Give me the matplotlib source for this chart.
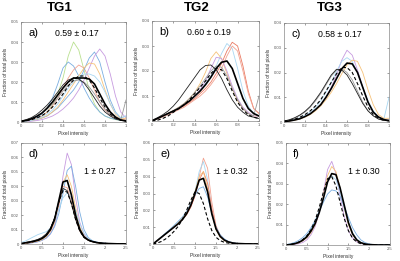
import numpy as np
import matplotlib.pyplot as plt

plt.rcParams['font.family'] = ['Liberation Sans', 'DejaVu Sans']

# x grids
x_top = [0, .05, .1, .15, .2, .25, .3, .35, .4, .45, .5, .55, .6, .65, .7, .75, .8, .85, .9, .95, 1.0]
x_bot = [0, .1, .2, .3, .4, .5, .6, .7, .8, .9, 1.0, 1.1, 1.2, 1.3, 1.4, 1.5, 1.6, 1.7, 1.8, 1.9,
         2.0, 2.1, 2.2, 2.3, 2.4, 2.5]

# panel a (values x 1e-3)
a_green = [0.3, 0.6, 1.0, 1.8, 3, 5, 8.5, 14, 22, 33, 40, 36, 26, 16, 9, 5, 3, 1.8, 1.2, 0.8, 1.5]
a_blue_l = [0.3, 0.6, 1.2, 2.2, 4, 7, 12, 19, 27, 30, 28, 23, 17, 12, 8, 5, 3, 2, 1.3, 0.8, 1]
a_salmon = [0.3, 0.5, 1, 1.8, 3, 5, 8, 12, 17, 22, 26, 28.5, 27, 22, 16, 10, 6, 3.5, 2, 1, 1.5]
a_blue_r = [0.2, 0.4, 0.7, 1.2, 2, 3, 5, 7, 10, 13, 16, 20, 26, 32, 35, 30, 20, 11, 5, 2, 3]
a_purple = [0.1, 0.2, 0.4, 0.7, 1.2, 2, 3, 4.5, 6.5, 9, 12, 16, 21, 27, 33, 36.5, 33, 24, 13, 5, 2]
a_orange = [0.2, 0.4, 0.8, 1.3, 2, 3.2, 5, 7.5, 11, 15, 19, 23, 27, 29.5, 29, 24, 16, 9, 4, 1.5, 2]
a_lblue = [0.2, 0.4, 0.8, 1.5, 2.5, 4, 6, 9, 13, 17, 20, 22.5, 24, 24, 23, 20, 15, 9, 4.5, 2, 3]
a_gray = [0.5, 1, 1.8, 3, 4.5, 6.5, 9, 12, 15.5, 18.5, 20.5, 21, 20, 17.5, 14, 10, 6.5, 3.5, 2, 1, 11]
a_mean = [0.3, 0.8, 1.6, 2.8, 4.5, 7, 10, 13.5, 17, 20, 22, 22, 22, 21.5, 19, 14, 9, 5, 2.5, 1, 0.5]
a_thin = [0.5, 1.2, 2.2, 3.8, 6, 8.5, 11.5, 15, 18.5, 21, 22, 21.5, 19.5, 16, 12, 8, 5, 3, 1.5, 0.8, 0.5]
a_dash = [0.3, 0.6, 1.2, 2, 3.2, 5, 7.5, 10.5, 14, 18, 21, 23, 23, 21, 17, 12, 7.5, 4, 2, 1, 0.5]

# panel b
b_red = [0, 1, 2, 3, 4, 5, 6, 7.5, 9, 11, 13, 15.5, 19, 23, 28, 31.5, 30, 22, 12, 5, 3]
b_lblue = [0, 1, 2, 3, 4, 5, 6.5, 8, 10, 12, 15, 18, 22, 27, 31, 29, 21, 12, 6, 3, 2]
b_orange_l = [0, 1, 2, 3, 4.2, 5.5, 7, 9, 11.5, 15, 19.5, 25, 27.7, 25, 19, 13, 8, 5, 3, 2, 2]
b_orange_r = [0, 0.8, 1.6, 2.5, 3.5, 4.5, 5.5, 7, 8.5, 10, 12, 14.5, 17.5, 21, 26, 30, 28, 20, 11, 5, 3]
b_purple = [0, 1, 2, 3, 4, 5.2, 6.5, 8, 10, 12.5, 16, 21, 25.5, 25, 20, 14, 9, 5.5, 3.5, 2, 2]
b_gray = [0, 1, 2, 3, 4.2, 5.5, 7, 9, 11.5, 14, 17, 20, 22, 21.5, 18, 13, 8.5, 5, 3, 2, 10]
b_mean = [0, 1, 2, 3, 4, 5, 6.5, 8, 10, 12, 14.5, 17.5, 21, 23.5, 24, 21, 15, 9, 5, 3, 2]
b_thin = [0.3, 1.3, 2.5, 4, 6, 8.5, 11.5, 14.5, 17.5, 20.5, 22.2, 22.4, 20.5, 17, 12.5, 8.5, 5.5, 3.5, 2, 1.5, 1]
b_dash = [0, 0.3, 1, 2, 3.5, 5, 6.5, 8.5, 11, 13.5, 16, 19, 21, 20.5, 17, 12, 7.5, 4.5, 2.5, 1.5, 1]

# panel c
c_purple = [0.2, 0.4, 0.8, 1.4, 2.3, 3.5, 5, 7, 10, 14, 19, 25, 29, 27, 21, 14, 8, 4, 2, 1, 1]
c_lblue = [0.3, 0.6, 1, 1.7, 2.7, 4, 6, 8.5, 12, 16, 20.5, 24.5, 26, 24.5, 20, 14, 8.5, 4.5, 2, 1, 10]
c_orange = [0.2, 0.4, 0.7, 1.2, 2, 3, 4.5, 6.5, 9, 12, 15.5, 19.5, 23, 25, 24.5, 20, 13, 7, 3, 1.5, 1.5]
c_gray = [0.4, 0.8, 1.5, 2.6, 4, 6, 8.5, 11.5, 15, 18.5, 21, 21.5, 20, 17, 12.5, 8, 4.5, 2.5, 1.2, 0.7, 1]
c_mean = [0.2, 0.4, 0.8, 1.3, 2.2, 3.3, 5, 7, 10, 13.5, 17.5, 21.5, 23.8, 23.5, 20, 14, 8, 4, 2, 1, 0.5]
c_thin = [0.4, 0.9, 1.7, 2.8, 4.3, 6.3, 9, 12, 15.5, 19, 21.3, 21, 19, 15.5, 11.5, 7.5, 4.5, 2.5, 1.2, 0.6, 0.5]
c_dash = [0.3, 0.6, 1.1, 1.9, 3, 4.5, 6.5, 9, 12.5, 16, 19.5, 22, 22, 20, 15.5, 10.5, 6, 3, 1.5, 0.7, 0.5]

# panel d
d_purple = [0, 0.3, 0.6, 1, 1.5, 2.5, 4, 7, 13, 25, 47, 63, 55, 32, 15, 7, 3.5, 2, 1.2, 0.8, 0.5, 0.3, 0.2, 0.1, 0.1, 0]
d_blue = [0, 0.3, 0.6, 1, 1.6, 2.6, 4.2, 7, 12, 21, 35, 51, 54, 40, 22, 10, 4.5, 2.2, 1.3, 0.8, 0.5, 0.3, 0.2, 0.1, 0.1, 0]
d_orange = [0, 0.4, 0.8, 1.3, 2, 3, 5, 8.5, 15, 27, 43, 48, 40, 25, 12, 5.5, 2.8, 1.6, 1, 0.6, 0.4, 0.3, 0.2, 0.1, 0.1, 0]
d_red = [0, 0.5, 1, 1.6, 2.4, 3.6, 5.5, 9, 16, 28, 40, 39, 30, 18, 9, 4.5, 2.5, 1.5, 0.9, 0.6, 0.4, 0.3, 0.2, 0.1, 0.1, 0]
d_lblue = [1, 2, 3.5, 5, 6.5, 7.5, 8.5, 11, 16, 24, 32, 35.5, 32, 23, 14, 7.5, 4, 2.2, 1.3, 0.8, 0.5, 0.3, 0.2, 0.1, 0.1, 0]
d_mean = [0.2, 0.8, 1.3, 1.8, 2.6, 3.8, 6, 10, 17, 30, 43, 44, 34, 20, 10, 5, 2.8, 1.7, 1, 0.6, 0.4, 0.3, 0.2, 0.1, 0.1, 0]
d_thin = [0.3, 1, 1.6, 2.3, 3.2, 4.6, 7, 11, 18, 29, 38.5, 37, 28, 17, 9, 4.6, 2.6, 1.6, 1, 0.6, 0.4, 0.3, 0.2, 0.1, 0.1, 0]
d_dash = [0, 0.5, 1, 1.7, 2.5, 3.8, 6, 10, 18, 29, 37, 36, 28, 17, 9, 4.6, 2.6, 1.6, 1, 0.6, 0.4, 0.3, 0.2, 0.1, 0.1, 0]

# panel e
e_salmon = [0, 2, 4, 6, 8, 10, 12, 14.5, 17.5, 22, 29, 40, 51, 45, 25, 11, 5, 2.5, 1.2, 0.6, 0.3, 0.2, 0.1, 0.1, 0, 0]
e_lblue = [0, 2, 4, 6, 8, 10.5, 12.5, 15, 18, 23, 31, 43, 49, 38, 20, 9, 4.5, 2.5, 1.2, 0.6, 0.3, 0.2, 0.1, 0.1, 0, 0]
e_red = [0, 2, 4, 6, 8, 10, 12, 14.5, 17.5, 22, 28.5, 38, 43, 36, 21, 10, 5, 2.5, 1.2, 0.6, 0.3, 0.2, 0.1, 0.1, 0, 0]
e_orange = [0, 2.2, 4.2, 6.2, 8.3, 10.5, 12.8, 15.5, 19, 24, 31, 40, 43, 33, 18, 8.5, 4, 2, 1, 0.5, 0.3, 0.2, 0.1, 0.1, 0, 0]
e_blue = [0, 2.2, 4.3, 6.5, 8.7, 11, 13.5, 16, 19.5, 24, 29, 33, 34, 28, 18, 10, 5.5, 3, 1.5, 0.8, 0.4, 0.2, 0.1, 0.1, 0, 0]
e_mean = [0, 2, 4, 6, 8, 10, 12, 14.5, 18, 23, 30, 38, 39, 31, 18, 9, 4.5, 2.3, 1.2, 0.6, 0.3, 0.2, 0.1, 0.1, 0, 0]
e_dash = [0, 0.6, 1.5, 3, 5, 7.5, 10.5, 14.5, 20, 26, 31, 30, 24, 15, 8, 4, 2, 1, 0.5, 0.3, 0.2, 0.1, 0.1, 0, 0, 0]

# panel f
f_purple = [0, 0.1, 0.3, 0.6, 1.2, 2.5, 5, 9, 16, 26, 37, 41, 35, 24, 14, 7, 3.5, 1.5, 0.7, 0.3, 0.1, 0.1, 0, 0, 0, 0]
f_orange = [0, 0.2, 0.5, 1, 2, 3.5, 6, 10, 16.5, 25, 34, 38.5, 36, 28, 18, 10, 5, 2.2, 1, 0.4, 0.2, 0.1, 0, 0, 0, 0]
f_lblue = [0, 0.3, 0.7, 1.4, 2.6, 4.5, 7.5, 11.5, 17, 24, 31, 34, 32, 26, 18, 11, 6, 3, 1.3, 0.6, 0.3, 0.1, 0, 0, 0, 0]
f_blue = [0.2, 0.6, 1.2, 2.2, 3.6, 5.6, 8.5, 12, 16.5, 21, 25, 27, 26.5, 24, 19, 13.5, 8.5, 5, 2.5, 1.2, 0.5, 0.2, 0.1, 0, 0, 0]
f_mean = [0, 0.2, 0.6, 1.2, 2.3, 4, 6.8, 10.5, 16, 23, 31, 35, 34.5, 28, 19.5, 11, 5.5, 2.5, 1.1, 0.5, 0.2, 0.1, 0, 0, 0, 0]
f_dash = [0, 0.3, 0.7, 1.4, 2.6, 4.5, 7.5, 12, 18.5, 26, 32.5, 33.5, 29, 21, 13, 7, 3.3, 1.5, 0.6, 0.3, 0.1, 0, 0, 0, 0, 0]

labels = ['a)', 'b)', 'c)', 'd)', 'e)', 'f)']
stats = ['0.59 ± 0.17', '0.60 ± 0.19', '0.58 ± 0.17', '1 ± 0.27', '1 ± 0.32', '1 ± 0.30']
groups = ['TG1', 'TG2', 'TG3']
ymax = [0.05, 0.04, 0.04, 0.07, 0.06, 0.05]

# colours
GREEN, BLUE, PURPLE, ORANGE = '#b9e08f', '#7aaee0', '#c79be0', '#f6c27a'
SALMON, RED, LBLUE, GRAY = '#f2a391', '#ea7a63', '#a9d7f2', '#9a9a9a'
thin = dict(lw=0.6)
panels = [
    [(a_green, GREEN), (a_blue_l, BLUE), (a_salmon, SALMON), (a_blue_r, BLUE), (a_purple, PURPLE),
     (a_orange, ORANGE), (a_lblue, LBLUE), (a_gray, GRAY)],
    [(b_red, RED), (b_lblue, LBLUE), (b_orange_l, ORANGE), (b_orange_r, SALMON), (b_purple, PURPLE),
     (b_gray, GRAY)],
    [(c_purple, PURPLE), (c_lblue, LBLUE), (c_orange, ORANGE), (c_gray, GRAY)],
    [(d_purple, PURPLE), (d_blue, BLUE), (d_orange, ORANGE), (d_red, SALMON), (d_lblue, LBLUE)],
    [(e_salmon, SALMON), (e_lblue, LBLUE), (e_red, RED), (e_orange, ORANGE), (e_blue, BLUE)],
    [(f_purple, PURPLE), (f_orange, ORANGE), (f_lblue, LBLUE), (f_blue, BLUE)],
]
means = [a_mean, b_mean, c_mean, d_mean, e_mean, f_mean]
thins = [a_thin, b_thin, c_thin, d_thin, None, None]
dashes = [a_dash, b_dash, c_dash, d_dash, e_dash, f_dash]

# axes boxes in pixels (left, top, right, bottom) on a 400x261 canvas
boxes = [(21, 22, 126, 122), (152, 21, 259, 121), (284, 23, 389, 122),
         (21, 143, 126, 244), (153, 143, 258, 244), (286, 143, 390, 245)]

fig = plt.figure(figsize=(4, 2.61), dpi=100)
W, H = 400, 261

for i in range(6):
    l, t, r, b = boxes[i]
    ax = fig.add_axes([l / W, 1 - b / H, (r - l) / W, (b - t) / H])
    top = i < 3
    xs = np.array(x_top if top else x_bot)
    for ys, c in panels[i]:
        ax.plot(xs, np.array(ys) * 1e-3, color=c, lw=0.6)
    if thins[i] is not None:
        ax.plot(xs, np.array(thins[i]) * 1e-3, color='#222222', lw=0.6)
    ax.plot(xs, np.array(dashes[i]) * 1e-3, color='k', lw=0.8, ls=(0, (3, 2)))
    ax.plot(xs, np.array(means[i]) * 1e-3, color='k', lw=1.2)

    ax.set_ylim(0, ymax[i])
    ax.set_yticks(np.arange(0, ymax[i] + 1e-9, 0.01))
    ax.set_yticklabels(['0'] + ['%.2f' % v for v in np.arange(0.01, ymax[i] + 1e-9, 0.01)])
    if top:
        ax.set_xlim(0, 1)
        ax.set_xticks([0, 0.2, 0.4, 0.6, 0.8, 1])
        ax.set_xticklabels(['0', '0.2', '0.4', '0.6', '0.8', '1'])
    else:
        ax.set_xlim(0, 2.5)
        ax.set_xticks([0, 0.5, 1, 1.5, 2, 2.5])
        ax.set_xticklabels(['0', '0.5', '1', '1.5', '2', '2.5'])
    ax.tick_params(direction='in', length=1.5, width=0.4, labelsize=3, pad=1.5,
                   colors='#555555', top=True, right=True)
    for s in ax.spines.values():
        s.set_linewidth(0.5)
        s.set_color('#888888')
    ax.set_xlabel('Pixel intensity', fontsize=3.5, labelpad=2, color='#333333')
    ax.set_ylabel('Fraction of total pixels', fontsize=3.5, labelpad=2, color='#333333')

    ax.text(0.07, 0.89, labels[i], transform=ax.transAxes, fontsize=8, va='center')
    if top:
        ax.text(0.535, 0.885, stats[i], transform=ax.transAxes, fontsize=6.3,
                ha='center', va='center')
    else:
        ax.text(0.75, 0.72, stats[i], transform=ax.transAxes, fontsize=6.3,
                ha='center', va='center')

for g, xc in zip(groups, [60, 197, 330]):
    fig.text(xc / W, 1 - 8 / H, g, fontsize=9.5, fontweight='bold', ha='center', va='center')

fig.savefig('out.png', dpi=100)
